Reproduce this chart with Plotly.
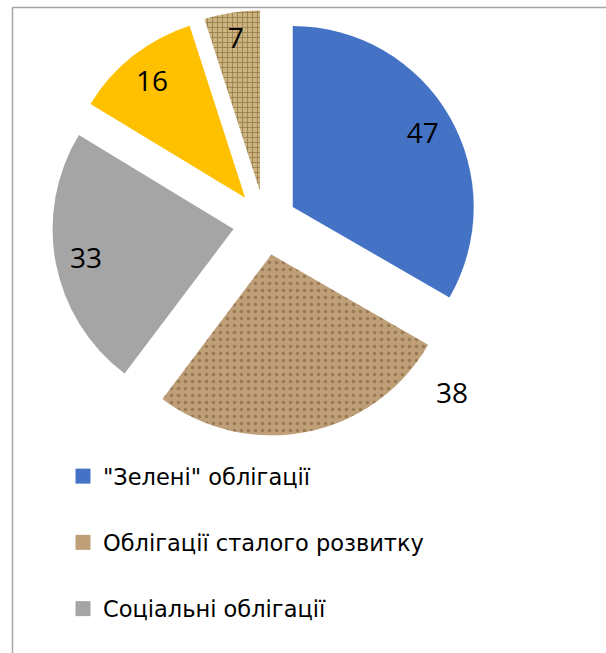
import plotly.graph_objects as go

# ---- data ----
categories = [
    '"Зелені" облігації',
    "Облігації сталого розвитку",
    "Соціальні облігації",
    "Облігації, пов'язані зі сталим розвитком",
    "Перехідні облігації",
]
values = [47, 38, 33, 16, 7]
colors = ["#4472C4", "#BE9F78", "#A5A5A5", "#FFC000", "#CDB47E"]
label_positions = ["inside", "none", "inside", "inside", "inside"]
legend_visible = [True, True, True, False, False]  # reference legend shows first three

W, H = 606, 653
FONT = "Open Sans"
LEGEND_FONT = "DejaVu Sans"

dom_x = [52 / W, 478 / W]
dom_y = [1 - 436 / H, 1 - 10 / H]
pull = [0.177] * len(values)

fig = go.Figure()

# main pie (slices)
fig.add_trace(go.Pie(
    labels=categories, values=values, sort=False, direction="clockwise",
    rotation=0, pull=pull, domain=dict(x=dom_x, y=dom_y),
    marker=dict(
        colors=colors, line=dict(width=0),
        pattern=dict(
            shape=["", ".", "", "", "+"],
            fgcolor=["#4472C4", "#9A7A55", "#A5A5A5", "#FFC000", "#937A4C"],
            bgcolor=colors,
            size=[8, 7, 8, 8, 5],
            solidity=[0.3, 0.2, 0.3, 0.3, 0.3],
            fillmode="replace",
        ),
    ),
    textinfo="none", showlegend=False, hoverinfo="label+value",
))

# label ring (transparent) to place values near the outer edge
fig.add_trace(go.Pie(
    labels=categories, values=values, sort=False, direction="clockwise",
    rotation=0, pull=pull, domain=dict(x=dom_x, y=dom_y), hole=0.66,
    marker=dict(colors=["rgba(0,0,0,0)"] * len(values), line=dict(width=0)),
    textinfo="value", textposition=label_positions,
    insidetextorientation="horizontal",
    textfont=dict(family=FONT, size=28, color="#000000"),
    showlegend=False, hoverinfo="skip",
))

# legend entries
for i, (name, c, vis) in enumerate(zip(categories, colors, legend_visible)):
    if not vis:
        continue
    fig.add_trace(go.Scatter(
        x=[None], y=[None], mode="markers", name=name,
        legendgroup=f"g{i}",
        marker=dict(symbol="square", size=15, color=c, line=dict(width=0)),
        hoverinfo="skip",
    ))

fig.update_layout(
    width=W, height=H,
    margin=dict(l=0, r=0, t=0, b=0, autoexpand=False),
    paper_bgcolor="white", plot_bgcolor="white",
    xaxis=dict(visible=False), yaxis=dict(visible=False),
    uniformtext=dict(minsize=28, mode="show"),
    showlegend=True,
    legend=dict(
        x=63 / W, xanchor="left", y=1 - 455 / H, yanchor="top",
        font=dict(family=LEGEND_FONT, size=22.5, color="#000000"),
        tracegroupgap=34, bgcolor="rgba(0,0,0,0)", borderwidth=0,
    ),
    annotations=[dict(
        text=str(values[1]), xref="paper", yref="paper",
        x=452 / W, y=1 - 392 / H, xanchor="center", yanchor="middle",
        showarrow=False, font=dict(family=FONT, size=28, color="#000000"),
    )],
    shapes=[dict(
        type="rect", xref="paper", yref="paper",
        x0=12.5 / W, x1=1.1, y0=-0.1, y1=1 - 7.5 / H,
        line=dict(color="#A6A6A6", width=1.5), layer="below",
    )],
)

fig.write_html(
    "out.html",
    config={"displayModeBar": False},
    post_script="document.body.style.margin='0';",
)
